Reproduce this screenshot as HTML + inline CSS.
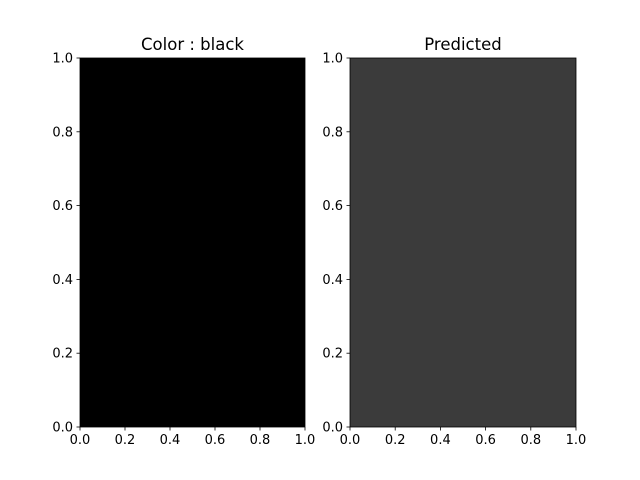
<!DOCTYPE html>
<html><head><meta charset="utf-8"><style>body{margin:0;background:#fff}svg{display:block}text{font-family:"DejaVu Sans","Liberation Sans",sans-serif;fill:#000}</style></head>
<body>
<svg id="fig" width="640" height="480"></svg>
<script>
const tickValues = [0.0, 0.2, 0.4, 0.6, 0.8, 1.0];
const tickLabels = ["0.0", "0.2", "0.4", "0.6", "0.8", "1.0"];
const panelTitles = ["Color : black", "Predicted"];
const panelColors = ["#000000", "#3b3b3b"];
const svg = document.getElementById('fig');
const NS = 'http://www.w3.org/2000/svg';
const panels = [{x0:80,x1:305},{x0:350,x1:576}];
const y0 = 427, y1 = 58;
function mk(tag, attrs, parent){const e=document.createElementNS(NS,tag);for(const k in attrs)e.setAttribute(k,attrs[k]);(parent||svg).appendChild(e);return e;}
panels.forEach((p,i)=>{
  const g = mk('g',{});
  
  
  const sx = v => p.x0 + v*(p.x1-p.x0);
  const sy = v => y0 - v*(y0-y1);
  const r = mk('rect',{x:sx(0),y:sy(1),width:sx(1)-sx(0),height:sy(0)-sy(1),fill:panelColors[i],stroke:'#000','stroke-width':0.8},g);
  
  
  const t = mk('text',{x:(p.x0+p.x1)/2,y:50,'text-anchor':'middle','font-size':'16.5px'},g);
  t.textContent = panelTitles[i];
  
  
  tickValues.forEach((v,j)=>{
    mk('line',{x1:sx(v),x2:sx(v),y1:y0,y2:y0+3.5,stroke:'#000','stroke-width':0.8},g);
    const xl = mk('text',{x:sx(v),y:y0+17,'text-anchor':'middle','font-size':'13px'},g);
    xl.textContent = tickLabels[j];
    
    
    mk('line',{x1:p.x0-3.5,x2:p.x0,y1:sy(v),y2:sy(v),stroke:'#000','stroke-width':0.8},g);
    const yl = mk('text',{x:p.x0-7,y:sy(v)+4.5,'text-anchor':'end','font-size':'13px'},g);
    yl.textContent = tickLabels[j];
    
    
  });
});
</script>
</body></html>
